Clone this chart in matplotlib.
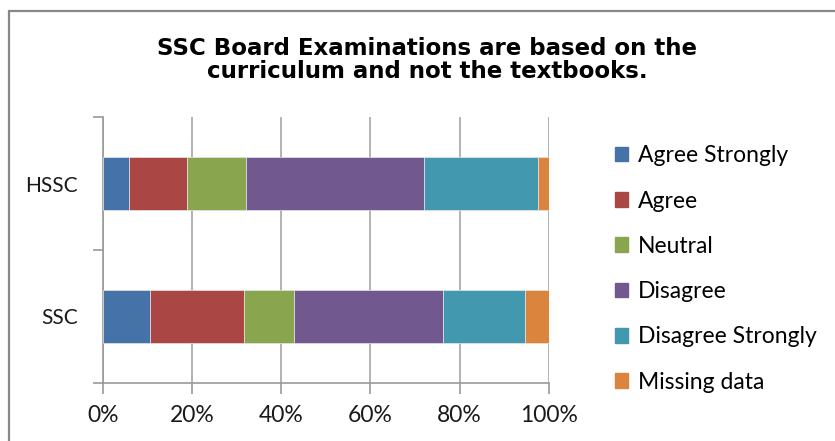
import matplotlib
matplotlib.use("Agg")
import matplotlib.pyplot as plt
from matplotlib.patches import Rectangle, Patch
import numpy as np

categories = ["SSC", "HSSC"]
series_names = ["Agree Strongly", "Agree", "Neutral", "Disagree", "Disagree Strongly", "Missing data"]
agree_strongly = [10.6, 6.0]
agree = [21.1, 12.8]
neutral = [11.2, 13.2]
disagree = [33.3, 40.1]
disagree_strongly = [18.4, 25.4]
missing_data = [5.4, 2.5]
x_ticks = [0, 20, 40, 60, 80, 100]
x_tick_labels = ["0%", "20%", "40%", "60%", "80%", "100%"]
title = "SSC Board Examinations are based on the\ncurriculum and not the textbooks."

colors = ["#4572A7", "#AA4643", "#89A54E", "#71588F", "#4198AF", "#DB843D"]

plt.rcParams["font.family"] = ["Lato", "DejaVu Sans"]

W, H = 835, 441
fig = plt.figure(figsize=(W / 100, H / 100), dpi=100)
fig.patch.set_facecolor("white")

# outer chart border
fig.add_artist(Rectangle((8.5 / W, -0.1), 2.0, (H - 10.5) / H + 0.1,
                         transform=fig.transFigure, fill=False,
                         edgecolor="#888888", linewidth=1.6))

left, right = 102.7 / W, 549.0 / W
top, bottom = 1 - 117 / H, 1 - 383 / H
ax = fig.add_axes([left, bottom, right - left, top - bottom])

all_series = [agree_strongly, agree, neutral, disagree, disagree_strongly, missing_data]
y = np.arange(len(categories))
cum = np.zeros(len(categories))
handles = []
for name, vals, c in zip(series_names, all_series, colors):
    vals = np.array(vals)
    ax.barh(y, vals, left=cum, height=0.4, color=c, edgecolor="#e6e6e6",
            linewidth=0.5, zorder=3)
    cum += vals
    handles.append(Patch(facecolor=c, edgecolor=c, label=name))

ax.set_xlim(0, 100)
ax.set_ylim(-0.5, 1.5)
ax.set_xticks(x_ticks)
ax.set_xticklabels(x_tick_labels, fontsize=16.5, color="#1a1a1a")
ax.set_yticks(y)
ax.set_yticklabels(categories, fontsize=15, color="#1a1a1a")
ax.set_yticks([-0.5, 0.5, 1.5], minor=True)
ax.tick_params(axis="y", which="major", length=0, pad=18)
ax.tick_params(axis="y", which="minor", length=7, color="#999999", width=1.2, direction="out")
ax.tick_params(axis="x", length=8, color="#999999", width=1.2, direction="out", pad=8)
ax.xaxis.grid(True, color="#a6a6a6", linewidth=1.2, zorder=0)
ax.set_axisbelow(True)
for s in ["top", "right"]:
    ax.spines[s].set_visible(False)
for s in ["left", "bottom"]:
    ax.spines[s].set_color("#999999")
    ax.spines[s].set_linewidth(1.2)

fig.text(427 / W, 1 - 60 / H, title, ha="center", va="center", fontsize=16.5,
         fontweight="bold", linespacing=0.95, family=["DejaVu Sans"])

fig.legend(handles=handles, loc="center left", bbox_to_anchor=(594 / W, 1 - 269 / H),
           frameon=False, fontsize=16.5, handlelength=0.6, handleheight=0.6,
           handletextpad=0.4, labelspacing=1.06)

fig.savefig("out.png", dpi=100)
